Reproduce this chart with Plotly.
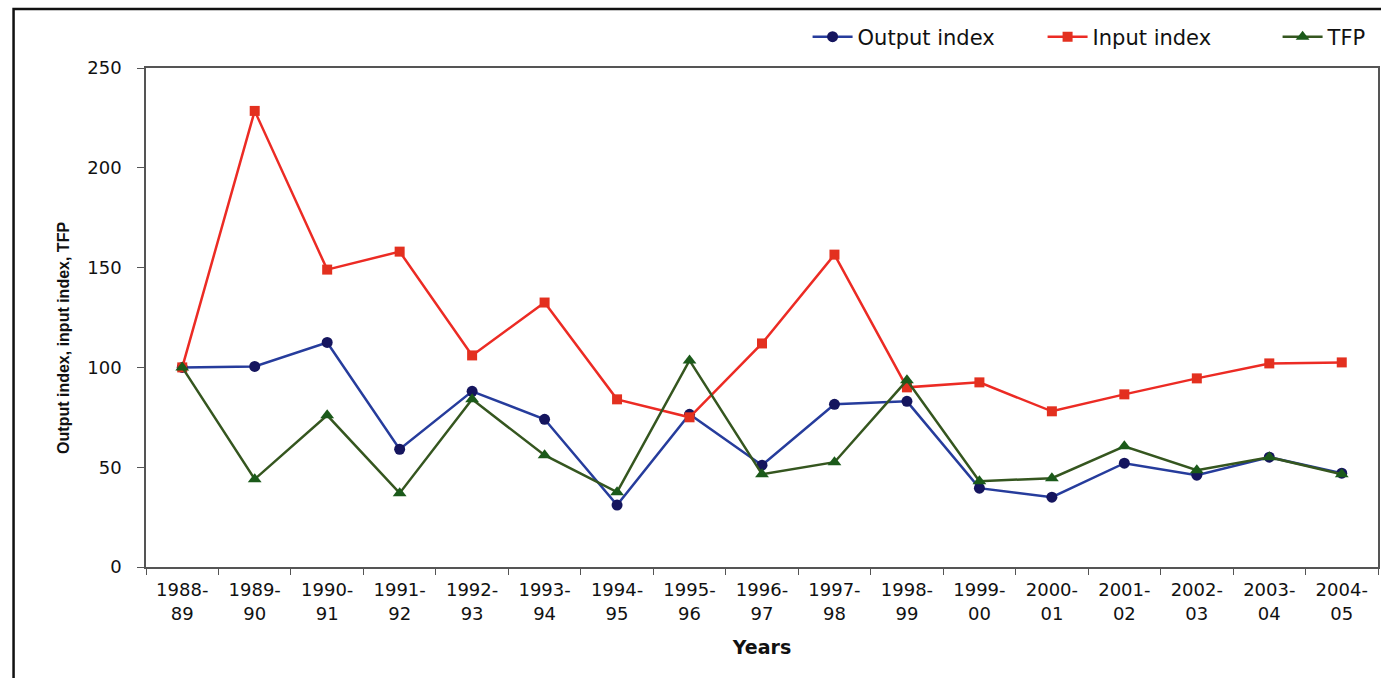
import plotly.graph_objects as go

years = ["1988-<br>89", "1989-<br>90", "1990-<br>91", "1991-<br>92", "1992-<br>93", "1993-<br>94",
         "1994-<br>95", "1995-<br>96", "1996-<br>97", "1997-<br>98", "1998-<br>99", "1999-<br>00",
         "2000-<br>01", "2001-<br>02", "2002-<br>03", "2003-<br>04", "2004-<br>05"]
output_index = [100, 100.5, 112.5, 59, 88, 74, 31, 76.5, 51, 81.5, 83, 39.5, 35, 52, 46, 55, 47]
input_index = [100, 228.5, 149, 158, 106, 132.5, 84, 75, 112, 156.5, 90, 92.5, 78, 86.5, 94.5, 102, 102.5]
tfp = [100, 44, 76, 37, 84, 56, 37.5, 103.5, 46.5, 52.5, 93.5, 43, 44.5, 60.5, 48.5, 55, 46.5]

fig = go.Figure()
fig.add_trace(go.Scatter(x=years, y=output_index, name="Output index", mode="lines+markers",
                         line=dict(color="#263c9c", width=2.5),
                         marker=dict(symbol="circle", size=11, color="#15155e")))
fig.add_trace(go.Scatter(x=years, y=input_index, name="Input index", mode="lines+markers",
                         line=dict(color="#ec2b24", width=2.5),
                         marker=dict(symbol="square", size=10, color="#e3301f")))
fig.add_trace(go.Scatter(x=years, y=tfp, name="TFP", mode="lines+markers",
                         line=dict(color="#35561f", width=2.5),
                         marker=dict(symbol="triangle-up", size=12, color="#1b5a1a")))

fig.update_layout(
    width=1381, height=678,
    margin=dict(l=146, r=3, t=68, b=111, autoexpand=False),
    paper_bgcolor="white", plot_bgcolor="white",
    font=dict(family="DejaVu Sans, Liberation Sans, sans-serif", color="#111111"),
    showlegend=True,
    legend=dict(orientation="h", x=0.537, xanchor="left", y=1.062, yanchor="middle",
                font=dict(size=21, color="#111111"), itemwidth=40,
                entrywidth=180, entrywidthmode="pixels",
                bgcolor="rgba(0,0,0,0)", traceorder="normal"),
    xaxis=dict(type="category", range=[-0.5, 16.5], showgrid=False,
               showline=True, linecolor="#555555", linewidth=1.5, mirror=True,
               ticks="outside", tickson="boundaries", ticklen=6, tickcolor="#555555",
               tickfont=dict(size=18, color="#111111"), ticklabelstandoff=6,
               title=dict(text="<b>Years</b>", font=dict(size=19, color="#111111"), standoff=18)),
    yaxis=dict(range=[0, 250], dtick=50, showgrid=False, zeroline=False,
               showline=True, linecolor="#555555", linewidth=1.5, mirror=True,
               ticks="outside", ticklen=7, tickcolor="#555555",
               tickfont=dict(size=18, color="#111111"), ticklabelstandoff=12),
    annotations=[dict(text="<b>Output index, input index, TFP</b>", textangle=-90,
                      xref="paper", yref="paper", x=-0.0666, y=0.459,
                      xanchor="center", yanchor="middle", showarrow=False,
                      font=dict(size=16, color="#111111",
                                family="Liberation Sans Narrow, Liberation Sans, Arial, sans-serif"))],
    shapes=[dict(type="rect", xref="paper", yref="paper", x0=-0.1075, x1=1.01, y0=-0.3, y1=1.118,
                 line=dict(color="#111111", width=2.5), fillcolor="rgba(0,0,0,0)", layer="above")],
)

fig.write_html("out.html")
